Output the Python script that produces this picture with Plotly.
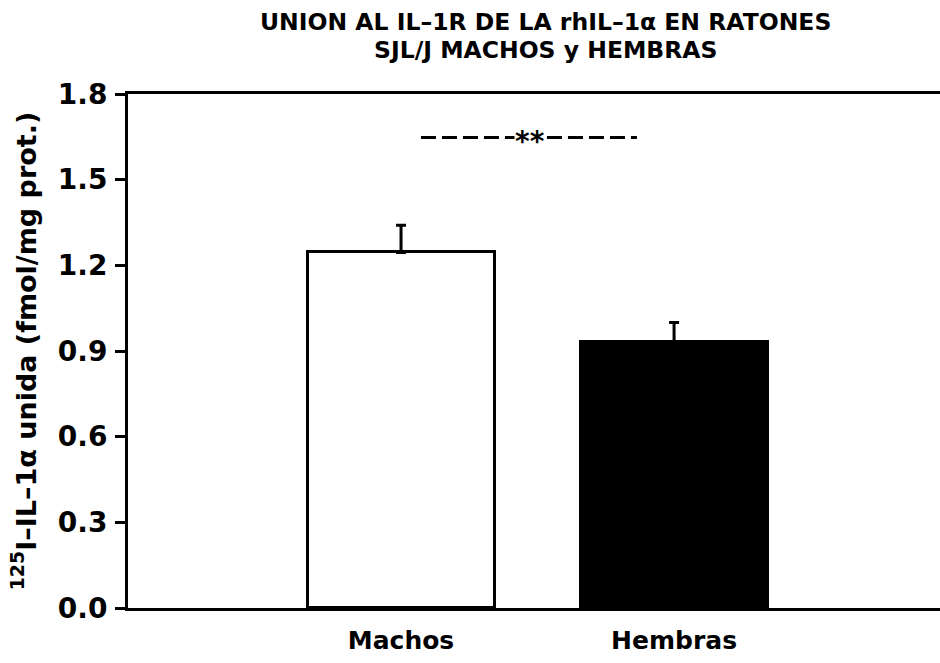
import plotly.graph_objects as go

# Specific binding of rhIL-1alpha to IL-1R in SJL/J mice, by sex
groups = ["Machos", "Hembras"]
binding = [1.245, 0.93]          # fmol/mg prot.
sem = [0.095, 0.07]
bar_fill = ["white", "black"]

y_ticks = [0.0, 0.3, 0.6, 0.9, 1.2, 1.5, 1.8]
y_tick_text = ["0.0", "0.3", "0.6", "0.9", "1.2", "1.5", "1.8"]

sig_level = 1.648
sig_label = "**"

title_lines = ["UNION AL IL–1R DE LA rhIL–1α EN RATONES", "SJL/J MACHOS y HEMBRAS"]
y_title = "<sup>125</sup>I–IL–1α unida (fmol/mg prot.)"

FONT = "DejaVu Sans"
INK = "black"
W, H = 940, 663
M = dict(l=128, r=0, t=94, b=55)

fig = go.Figure()

fig.add_trace(go.Bar(
    x=groups,
    y=binding,
    width=0.685,
    marker=dict(color=bar_fill, line=dict(color=INK, width=3)),
    error_y=dict(type="data", symmetric=False, array=sem,
                 arrayminus=[0] * len(sem),
                 color=INK, thickness=3, width=5),
    showlegend=False,
))

# significance bracket between the two groups
x_left = 0.073
x_right = 0.864
fig.add_trace(go.Scatter(
    x=[x_left, x_right], y=[sig_level, sig_level],
    mode="lines", xaxis="x2",
    line=dict(color=INK, width=3, dash="15px,6px"),
    showlegend=False, hoverinfo="skip",
))
fig.add_annotation(
    x=(x_left + x_right) / 2 + 0.005, y=sig_level, xref="x2", yref="y",
    text=f"<b>{sig_label}</b>", showarrow=False,
    font=dict(family=FONT, size=28, color=INK),
    bgcolor="white", borderpad=0, yshift=-4,
)

# two-line heading, placed by pixel row
plot_h = H - M["t"] - M["b"]
for i, line in enumerate(title_lines):
    row = 22 + 28 * i
    fig.add_annotation(
        x=0.514, xref="paper", y=1 + (M["t"] - row) / plot_h, yref="paper",
        text=f"<b>{line}</b>", showarrow=False,
        font=dict(family=FONT, size=23.5, color=INK),
        xanchor="center", yanchor="middle",
    )

fig.update_layout(
    width=W, height=H,
    margin=M,
    paper_bgcolor="white", plot_bgcolor="white",
    bargap=0,
    xaxis=dict(
        range=[-1, 1.974],
        showline=True, linecolor=INK, linewidth=3, mirror=True,
        ticks="", showgrid=False, zeroline=False,
        tickvals=groups, ticktext=[f"<b>{g}</b>" for g in groups],
        tickfont=dict(family=FONT, size=25, color=INK),
        ticklabelstandoff=8,
    ),
    xaxis2=dict(range=[-1, 1.974], overlaying="x", visible=False),
    yaxis=dict(
        range=[0, 1.8],
        tickvals=y_ticks, ticktext=[f"<b>{t}</b>" for t in y_tick_text],
        ticks="outside", ticklen=10, tickwidth=3, tickcolor=INK,
        showline=True, linecolor=INK, linewidth=3,
        showgrid=False, zeroline=False,
        tickfont=dict(family=FONT, size=28, color=INK),
        ticklabelstandoff=2,
        title=dict(
            text=f"<b>{y_title}</b>",
            font=dict(family=FONT, size=27, color=INK),
            standoff=14,
        ),
    ),
)

fig.write_html("out.html")
